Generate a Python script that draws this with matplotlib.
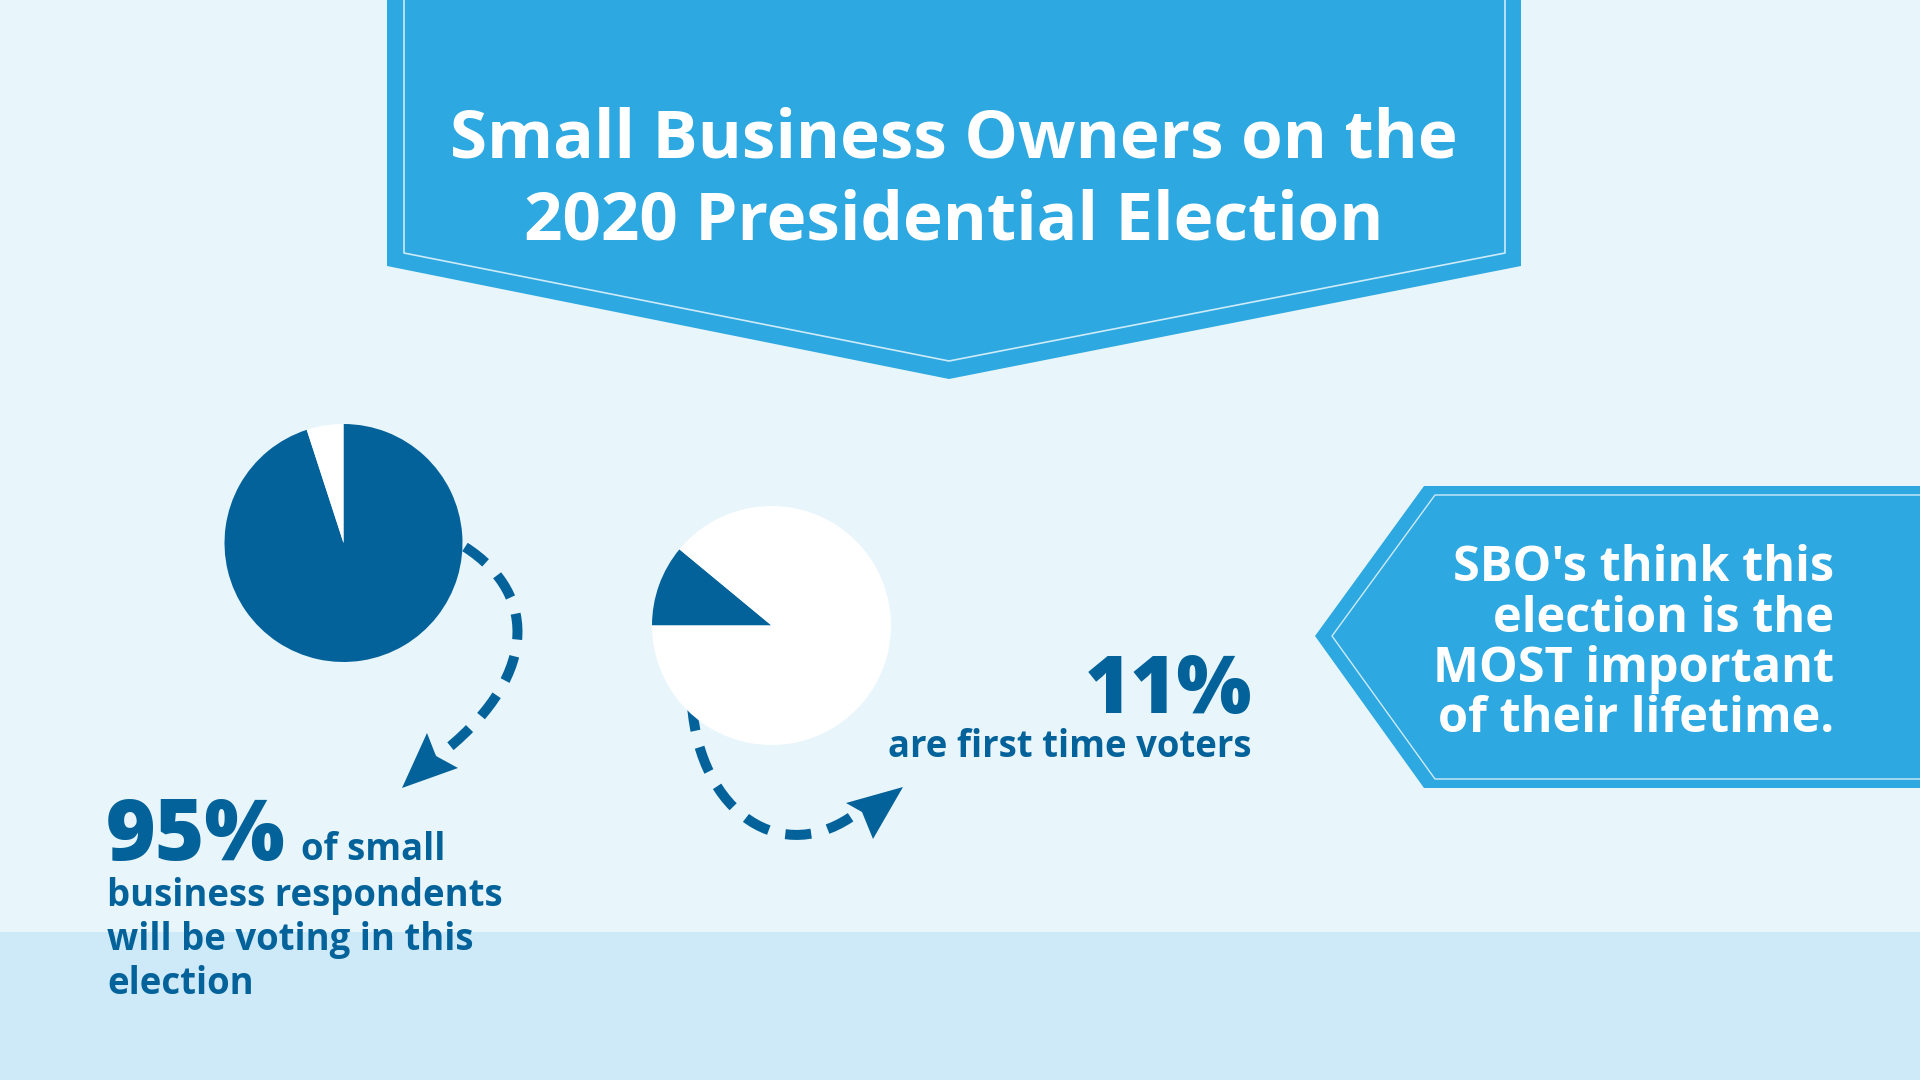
import matplotlib
matplotlib.use("Agg")
import matplotlib.pyplot as plt
from matplotlib.patches import Polygon, PathPatch, Rectangle
from matplotlib.path import Path

W, H = 1920, 1080

VOTING_SHARE = [95, 5]          # will vote / will not
FIRST_TIME_SHARE = [11, 89]     # first-time voters / everyone else
HEADLINE = ["Small Business Owners on the", "2020 Presidential Election"]
CALLOUT = ["SBO's think this", "election is the", "MOST important", "of their lifetime."]
VOTING_BIG = "95%"
VOTING_TEXT = ["of small", "business respondents", "will be voting in this", "election"]
FIRST_BIG = "11%"
FIRST_TEXT = "are first time voters"

BG = "#E8F6FC"
BAND = "#CEEAF8"
BANNER = "#2DA8E0"
RULE = "#CDEBF8"
DARK = "#03629A"

plt.rcParams["font.family"] = ["Open Sans", "DejaVu Sans"]


def Y(v):
    """pixel row (top-down) -> data y (bottom-up)"""
    return H - v


def pts(seq):
    return [(x, Y(y)) for x, y in seq]


fig = plt.figure(figsize=(W / 100, H / 100), dpi=100, facecolor=BG)
ax = fig.add_axes([0, 0, 1, 1])
ax.set_facecolor(BG)

# bottom band
ax.add_patch(Rectangle((0, 0), W, Y(932), color=BAND, lw=0, zorder=0))

# headline banner with its thin inner rule
ax.add_patch(Polygon(pts([(387, -5), (387, 266), (949, 379), (1521, 266), (1521, -5)]),
                     closed=True, color=BANNER, lw=0, zorder=1))
ax.plot(*zip(*pts([(404, -5), (404, 253), (949, 361), (1505, 253), (1505, -5)])),
        color=RULE, lw=1.2, zorder=2)
for i, line in enumerate(HEADLINE):
    ax.text(954, Y(157 + 82 * i), line, ha="center", va="baseline", fontsize=48.5,
            fontweight="bold", color="white", zorder=3)

# callout arrow box on the right
ax.add_patch(Polygon(pts([(W + 5, 486), (1424, 486), (1315, 636), (1424, 788), (W + 5, 788)]),
                     closed=True, color=BANNER, lw=0, zorder=1))
ax.plot(*zip(*pts([(W + 5, 495), (1435, 495), (1332, 636), (1435, 779), (W + 5, 779)])),
        color=RULE, lw=1.0, zorder=2)
for i, line in enumerate(CALLOUT):
    ax.text(1834, Y(581 + 50.5 * i), line, ha="right", va="baseline", fontsize=35,
            fontweight="bold", color="white", zorder=3)

# dashed arrows
dash = (0, (2.6, 1.7))
arrow1 = Path(pts([(465, 547), (540, 595), (538, 680), (437, 757)]),
              [Path.MOVETO, Path.CURVE4, Path.CURVE4, Path.CURVE4])
ax.add_patch(PathPatch(arrow1, fill=False, ec=DARK, lw=7.2, ls=dash, capstyle="butt", zorder=2))
ax.add_patch(Polygon(pts([(402, 788), (427, 733), (436, 756), (458, 768)]),
                     closed=True, color=DARK, lw=0, zorder=3))

arrow2 = Path(pts([(692, 705), (700, 812), (782, 870), (858, 812)]),
              [Path.MOVETO, Path.CURVE4, Path.CURVE4, Path.CURVE4])
ax.add_patch(PathPatch(arrow2, fill=False, ec=DARK, lw=7.2, ls=dash, capstyle="butt", zorder=2))
ax.add_patch(Polygon(pts([(903, 787), (846, 803), (862, 812), (873, 839)]),
                     closed=True, color=DARK, lw=0, zorder=3))

# pies
ax.pie(VOTING_SHARE, colors=[DARK, "white"], startangle=90, counterclock=False,
       center=(343.5, Y(543)), radius=119, frame=True,
       wedgeprops=dict(linewidth=0, zorder=4))
ax.pie(FIRST_TIME_SHARE, colors=[DARK, "white"], startangle=180, counterclock=False,
       center=(771.5, Y(625.5)), radius=119.5, frame=True,
       wedgeprops=dict(linewidth=0, zorder=4))

# 95% block
ax.text(106, Y(860), VOTING_BIG, ha="left", va="baseline", fontsize=61,
        fontweight="heavy", color=DARK, zorder=5)
ax.text(301, Y(860), VOTING_TEXT[0], ha="left", va="baseline", fontsize=26.3,
        fontweight="bold", color=DARK, zorder=5)
for i, line in enumerate(VOTING_TEXT[1:]):
    ax.text(107, Y(906 + 44 * i), line, ha="left", va="baseline", fontsize=26.3,
            fontweight="bold", color=DARK, zorder=5)

# 11% block
ax.text(1252, Y(713), FIRST_BIG, ha="right", va="baseline", fontsize=57,
        fontweight="heavy", color=DARK, zorder=5)
ax.text(1252, Y(757), FIRST_TEXT, ha="right", va="baseline", fontsize=26.3,
        fontweight="bold", color=DARK, zorder=5)

ax.set_xlim(0, W)
ax.set_ylim(0, H)
ax.set_aspect("auto")
ax.axis("off")

fig.savefig("out.png", dpi=100, facecolor=BG)
